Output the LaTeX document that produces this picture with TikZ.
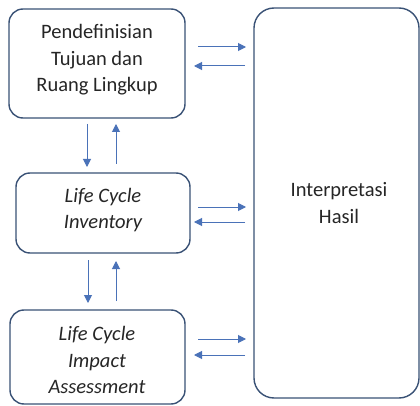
\documentclass[tikz,border=0pt]{standalone}
\usepackage{fontspec}
\setmainfont{Carlito}
\usetikzlibrary{arrows.meta}
\definecolor{boxline}{HTML}{3A5276}
\definecolor{flow}{HTML}{4A72B8}
\definecolor{ink}{HTML}{262626}
\begin{document}
\begin{tikzpicture}[x=1pt,y=-1pt,
  stage/.style={draw=boxline,line width=1.4pt,rounded corners=14pt,fill=white},
  caption/.style={align=center,text=ink,font=\fontsize{20.5}{26.5}\selectfont,inner sep=0pt},
  flowarrow/.style={draw=flow,line width=1pt,-{Triangle[length=8pt,width=8pt]}}]
\useasboundingbox (0,0) rectangle (420,406);
\fill[white] (0,0) rectangle (420,406);

% stage boxes
\draw[stage] (9,9) rectangle (185,118);
\draw[stage] (16,173) rectangle (190,253);
\draw[stage] (10,310) rectangle (185,404);
\draw[stage,rounded corners=20pt] (254,8) rectangle (419,398);

% captions
\node[caption] (t1) at (97,60) {Pendefinisian\\Tujuan dan\\Ruang Lingkup};
\node[caption,font=\fontsize{20.5}{26.5}\selectfont\itshape] (t2) at (103,210) {Life Cycle\\Inventory};
\node[caption,font=\fontsize{20.5}{26.5}\selectfont\itshape] (t3) at (97,360) {Life Cycle\\Impact\\Assessment};
\node[caption] (t4) at (339,203) {Interpretasi\\Hasil};

% vertical links between stages
\coordinate (d1s) at (87,124); \coordinate (d1e) at (87,167);
\coordinate (u1s) at (116,164); \coordinate (u1e) at (116,124);
\coordinate (d2s) at (88,260); \coordinate (d2e) at (88,303);
\coordinate (u2s) at (116,301); \coordinate (u2e) at (116,261);
\draw[flowarrow] (d1s) -- (d1e);
\draw[flowarrow] (u1s) -- (u1e);
\draw[flowarrow] (d2s) -- (d2e);
\draw[flowarrow] (u2s) -- (u2e);

% horizontal links to the interpretation box
\coordinate (r1s) at (198,47); \coordinate (r1e) at (246,47);
\coordinate (l1s) at (245,66); \coordinate (l1e) at (194,66);
\coordinate (r2s) at (198,207); \coordinate (r2e) at (246,207);
\coordinate (l2s) at (245,222); \coordinate (l2e) at (194,222);
\coordinate (r3s) at (198,339); \coordinate (r3e) at (246,339);
\coordinate (l3s) at (245,355); \coordinate (l3e) at (194,355);
\draw[flowarrow] (r1s) -- (r1e);
\draw[flowarrow] (l1s) -- (l1e);
\draw[flowarrow] (r2s) -- (r2e);
\draw[flowarrow] (l2s) -- (l2e);
\draw[flowarrow] (r3s) -- (r3e);
\draw[flowarrow] (l3s) -- (l3e);
\end{tikzpicture}
\end{document}
